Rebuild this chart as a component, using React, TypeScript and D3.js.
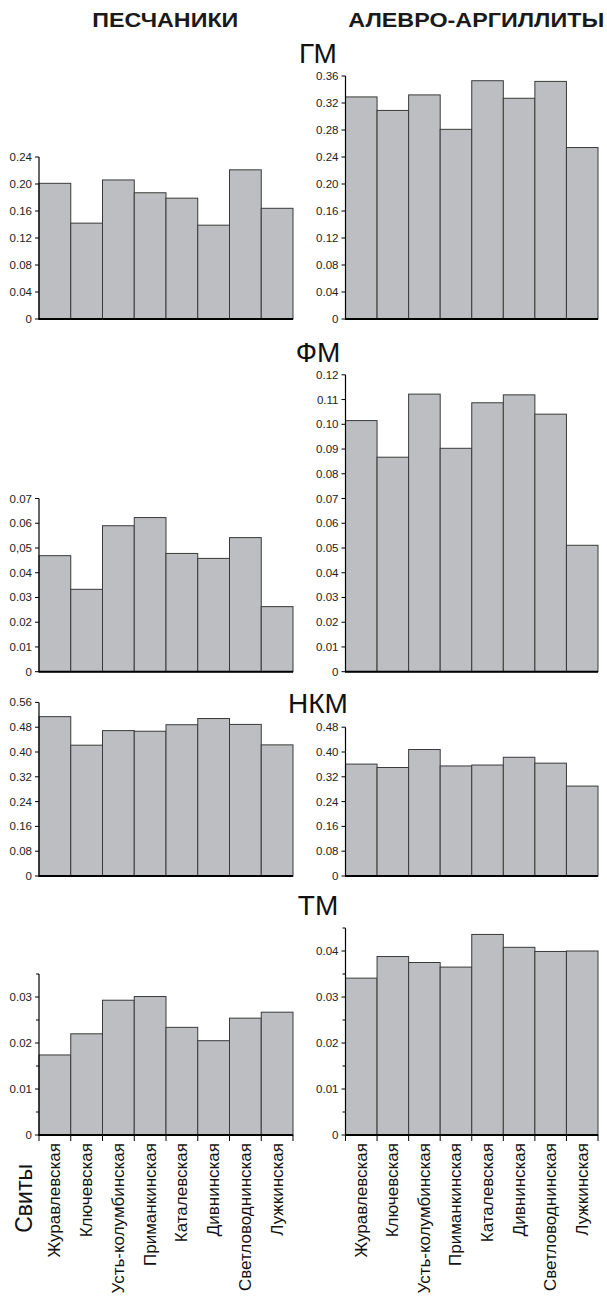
import * as d3 from "d3";

// свиты (formations), same order in every panel
const formations = [
  "Журавлевская",
  "Ключевская",
  "Усть-колумбинская",
  "Приманкинская",
  "Каталевская",
  "Дивнинская",
  "Светловоднинская",
  "Лужкинская",
];

// ПЕСЧАНИКИ (sandstones) / АЛЕВРО-АРГИЛЛИТЫ (silt-mudstones)
const gmSand = [0.201, 0.142, 0.206, 0.187, 0.179, 0.139, 0.221, 0.164];
const gmClay = [0.329, 0.309, 0.332, 0.281, 0.353, 0.327, 0.352, 0.254];
const fmSand = [0.0469, 0.0333, 0.059, 0.0623, 0.0478, 0.0458, 0.0542, 0.0263];
const fmClay = [0.1015, 0.0867, 0.1122, 0.0903, 0.1087, 0.1119, 0.1041, 0.0511];
const nkmSand = [0.514, 0.422, 0.469, 0.467, 0.488, 0.508, 0.489, 0.423];
const nkmClay = [0.361, 0.35, 0.408, 0.355, 0.358, 0.383, 0.364, 0.29];
const tmSand = [0.0174, 0.022, 0.0293, 0.0301, 0.0234, 0.0205, 0.0254, 0.0267];
const tmClay = [0.0341, 0.0388, 0.0375, 0.0365, 0.0436, 0.0408, 0.0399, 0.04];

const gmSandTicks = ["0", "0.04", "0.08", "0.12", "0.16", "0.20", "0.24"];
const gmClayTicks = ["0", "0.04", "0.08", "0.12", "0.16", "0.20", "0.24", "0.28", "0.32", "0.36"];
const fmSandTicks = ["0", "0.01", "0.02", "0.03", "0.04", "0,05", "0.06", "0.07"];
const fmClayTicks = ["0", "0.01", "0.02", "0.03", "0.04", "0.05", "0.06", "0.07", "0.08", "0.09", "0.10", "0.11", "0.12"];
const nkmSandTicks = ["0", "0.08", "0.16", "0.24", "0.32", "0.40", "0.48", "0.56"];
const nkmClayTicks = ["0", "0.08", "0.16", "0.24", "0.32", "0.40", "0.48"];
const tmSandTicks = ["0", "0.01", "0.02", "0.03"];
const tmClayTicks = ["0", "0.01", "0.02", "0.03", "0.04"];
const tmSandMinor = [0.005, 0.015, 0.025, 0.035];
const tmClayMinor = [0.005, 0.015, 0.025, 0.035, 0.045];

const titles = ["ГМ", "ФМ", "НКМ", "ТМ"];

const FONT = "'Liberation Sans', Arial, Helvetica, sans-serif";
const W = 607, H = 1296;
const COLS = [{ x0: 39, x1: 293 }, { x0: 345.5, x1: 598 }];
const BAR = "#bdbec2";

type PanelProps = {
  values: number[]; ticks: string[]; minor?: number[];
  top: number; base: number; unit: number; col: number; cats?: boolean;
};

function Panel({ values, ticks, minor = [], top, base, unit, col, cats = false }: PanelProps) {
  const { x0, x1 } = COLS[col];
  const x = d3.scaleBand<string>().domain(formations).range([x0, x1]).padding(0);
  const y = d3.scaleLinear().domain([0, top]).range([base, base - top * unit]);
  const bw = x.bandwidth();
  return (
    <g>
      {values.map((v, i) => (
        <rect key={i} x={x(formations[i])} y={y(v)} width={bw} height={base - y(v)}
          fill={BAR} stroke="#3a3a3a" strokeWidth={1} />
      ))}
      <line x1={x0} x2={x0} y1={y(top)} y2={base} stroke="#000" strokeWidth={1.2} />
      {ticks.map((t, i) => {
        const v = parseFloat(t.replace(",", "."));
        return (
          <g key={i}>
            <line x1={x0 - 4} x2={x0} y1={y(v)} y2={y(v)} stroke="#000" strokeWidth={1} />
            <text x={x0 - 7} y={y(v) + 4} textAnchor="end" fontSize={11.5} fill="#222">{t}</text>
          </g>
        );
      })}
      {minor.map((v, i) => (
        <line key={i} x1={x0 - 3} x2={x0} y1={y(v)} y2={y(v)} stroke="#000" strokeWidth={1} />
      ))}
      <line x1={x0 - 0.5} x2={x1} y1={base} y2={base} stroke="#000" strokeWidth={2} />
      {cats && (
        <g>
          {formations.concat([""]).map((f, i) => {
            const xx = i < formations.length ? (x(f) as number) : x1;
            return <line key={i} x1={xx} x2={xx} y1={base} y2={base + 6} stroke="#000" strokeWidth={1} />;
          })}
          {formations.map((f, i) => {
            const cx = (x(f) as number) + bw / 2 + 5.5;
            return (
              <text key={i} x={cx} y={base + 8} transform={`rotate(-90 ${cx} ${base + 8})`}
                textAnchor="end" fontSize={17} fill="#111">{f}</text>
            );
          })}
        </g>
      )}
    </g>
  );
}

export default function App() {
  return (
    <svg width={W} height={H} viewBox={`0 0 ${W} ${H}`}
      style={{ position: "absolute", left: 0, top: 0, background: "#fff", fontFamily: FONT }}>
      <text x={92.3} y={27.3} fontSize={21} fontWeight="bold" textLength={146}
        lengthAdjust="spacingAndGlyphs" fill="#1a1a1a">ПЕСЧАНИКИ</text>
      <text x={348.3} y={26.7} fontSize={21} fontWeight="bold" textLength={256}
        lengthAdjust="spacingAndGlyphs" fill="#1a1a1a">АЛЕВРО-АРГИЛЛИТЫ</text>

      {[63, 362, 713, 915].map((by, i) => (
        <text key={i} x={318} y={by} textAnchor="middle" fontSize={28} fill="#111">{titles[i]}</text>
      ))}

      <Panel values={gmSand} ticks={gmSandTicks} top={0.24} base={319} unit={675} col={0} />
      <Panel values={gmClay} ticks={gmClayTicks} top={0.36} base={319} unit={675} col={1} />
      <Panel values={fmSand} ticks={fmSandTicks} top={0.07} base={671.7} unit={2474} col={0} />
      <Panel values={fmClay} ticks={fmClayTicks} top={0.12} base={671.7} unit={2474} col={1} />
      <Panel values={nkmSand} ticks={nkmSandTicks} top={0.56} base={876} unit={310} col={0} />
      <Panel values={nkmClay} ticks={nkmClayTicks} top={0.48} base={876} unit={310} col={1} />
      <Panel values={tmSand} ticks={tmSandTicks} minor={tmSandMinor} top={0.035} base={1135} unit={4600} col={0} cats />
      <Panel values={tmClay} ticks={tmClayTicks} minor={tmClayMinor} top={0.045} base={1135} unit={4600} col={1} cats />

      <text x={32.3} y={1164} transform="rotate(-90 32.3 1164)" textAnchor="end"
        fontSize={23} fill="#111">Свиты</text>
    </svg>
  );
}
